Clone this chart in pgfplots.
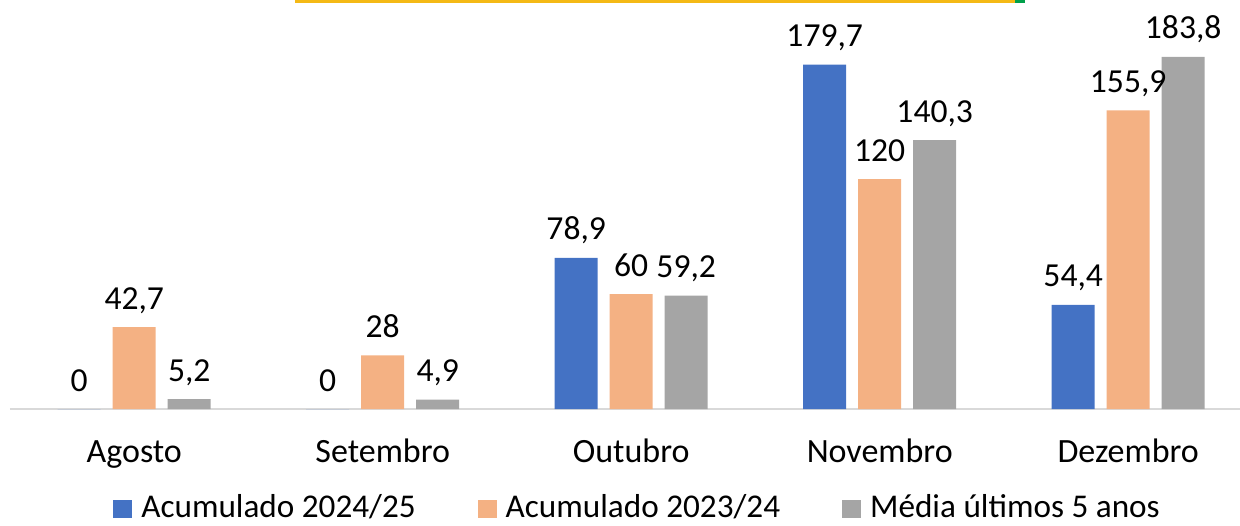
\documentclass[border=0pt]{standalone}
\usepackage{pgfplots}
\pgfplotsset{compat=1.18}
\usepackage{fontspec}
\setmainfont{Carlito}
\definecolor{cblue}{HTML}{4472C4}
\definecolor{corange}{HTML}{F4B183}
\definecolor{cgray}{HTML}{A5A5A5}
\definecolor{caxis}{HTML}{D9D9D9}
\definecolor{cyellow}{HTML}{F4B916}
\definecolor{cgreen}{HTML}{00A04A}
\begin{document}
\begin{tikzpicture}
\useasboundingbox (0,0) rectangle (620pt,262.5pt);
\fill[cyellow] (147.5pt,260.8pt) rectangle (507.5pt,262.5pt);
\fill[cgreen] (507.5pt,260.8pt) rectangle (512.5pt,262.5pt);
\begin{axis}[
  at={(5pt,58pt)}, anchor=south west,
  scale only axis,
  width=615pt, height=194.5pt,
  xmin=-0.5, xmax=4.45,
  ymin=0, ymax=203,
  ybar=6pt, bar width=21.5pt,
  axis x line*=bottom,
  axis y line=none,
  x axis line style={caxis, line width=0.9pt},
  major tick length=0pt,
  xtick={0,1,2,3,4},
  xticklabels={Agosto,Setembro,Outubro,Novembro,Dezembro},
  xticklabel style={font=\fontsize{17}{20}\selectfont, anchor=base, yshift=-26.5pt},
  /pgf/number format/.cd, use comma, 1000 sep={}, assume math mode=true,
  /pgfplots/.cd,
  nodes near coords,
  every node near coord/.append style={font=\fontsize{16.8}{20}\selectfont, black, inner sep=0pt, anchor=base, yshift=9pt},
  legend columns=3,
  legend style={draw=none, at={(0.511,-0.199)}, anchor=north,
    font=\fontsize{16.6}{20}\selectfont,
    /tikz/every even column/.append style={column sep=29pt},
    /tikz/every odd column/.append style={column sep=0pt}},
  legend image code/.code={\fill[#1] (0pt,-5pt) rectangle (9.5pt,3.8pt); \path (12pt,0pt);},
]
\addplot[fill=cblue, draw=none] coordinates {(0,0) (1,0) (2,78.9) (3,179.7) (4,54.4)};
\addplot[fill=corange, draw=none] coordinates {(0,42.7) (1,28) (2,60) (3,120) (4,155.9)};
\addplot[fill=cgray, draw=none] coordinates {(0,5.2) (1,4.9) (2,59.2) (3,140.3) (4,183.8)};
\legend{Acumulado 2024/25, Acumulado 2023/24, Média últimos 5 anos}
\end{axis}
\end{tikzpicture}
\end{document}
